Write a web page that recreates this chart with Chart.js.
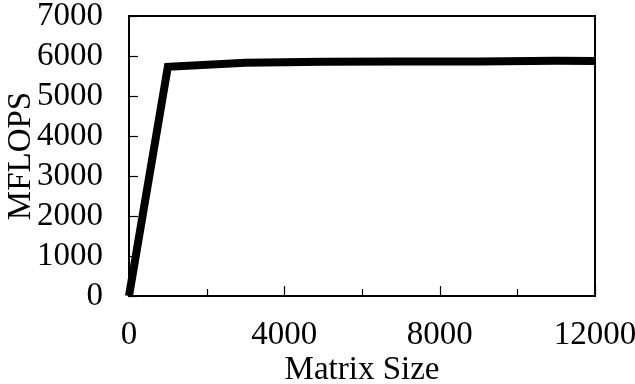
<!DOCTYPE html>
<html>
<head>
<meta charset="utf-8">
<script src="https://cdn.jsdelivr.net/npm/chart.js@4.4.0/dist/chart.umd.min.js"></script>
<style>
  html, body { margin: 0; padding: 0; background: #fff; }
  #wrap { width: 635px; height: 384px; }
</style>
</head>
<body>
<div id="wrap"><canvas id="mflops-chart"></canvas></div>
<script>
const matrixSizes = [0, 1000, 3000, 5000, 7000, 9000, 11000, 12000];
const mflops = [0, 5730, 5830, 5855, 5865, 5865, 5880, 5875];
const xTickValues = [0, 2000, 4000, 6000, 8000, 10000, 12000];
const yTickValues = [0, 1000, 2000, 3000, 4000, 5000, 6000, 7000];

const serif = "'Liberation Serif', 'DejaVu Serif', serif";

// frame box and inward tick marks
const frameTicks = {
    id: "frameTicks",
    afterDraw(chart) {
        const ctx = chart.ctx;
        const a = chart.chartArea;
        const xs = chart.scales.x;
        const ys = chart.scales.y;
        ctx.save();
        ctx.strokeStyle = "#000";
        ctx.lineWidth = 1.2;
        xTickValues.forEach((v) => {
            const px = Math.round(xs.getPixelForValue(v)) + 0.5;
            const len = v % 4000 === 0 ? 10 : 7;
            ctx.beginPath();
            ctx.moveTo(px, a.bottom);
            ctx.lineTo(px, a.bottom - len);
            ctx.stroke();
        });
        yTickValues.forEach((v) => {
            const py = Math.round(ys.getPixelForValue(v)) + 0.5;
            ctx.beginPath();
            ctx.moveTo(a.left, py);
            ctx.lineTo(a.left + 9, py);
            ctx.stroke();
        });
        ctx.lineWidth = 2;
        ctx.strokeRect(a.left, a.top, a.right - a.left, a.bottom - a.top);
        ctx.restore();
    },
};

new Chart(document.getElementById("mflops-chart"), {
    type: "line",
    data: {
        datasets: [
            {
                label: "MFLOPS",
                data: matrixSizes.map((x, i) => ({ x: x, y: mflops[i] })),
                borderColor: "#000",
                borderWidth: 8,
                pointRadius: 0,
                tension: 0,
                borderJoinStyle: "miter",
                clip: false,
            },
        ],
    },
    options: {
        responsive: true,
        maintainAspectRatio: false,
        animation: false,
        layout: { padding: { top: 16, right: 40, bottom: 0, left: 0 } },
        plugins: { legend: { display: false }, tooltip: { enabled: false } },
        scales: {
            x: {
                type: "linear",
                min: 0,
                max: 12000,
                afterBuildTicks: (s) => { s.ticks = xTickValues.filter((v) => v % 4000 === 0).map((v) => ({ value: v })); },
                afterFit: (s) => { s.height = 88; s.paddingLeft = 0; s.paddingRight = 0; },
                grid: { display: false, drawTicks: false },
                border: { display: false },
                ticks: {
                    color: "#000",
                    padding: 20,
                    maxRotation: 0,
                    autoSkip: false,
                    callback: (v) => String(v),
                    font: { family: serif, size: 33 },
                },
                title: {
                    display: true,
                    text: "Matrix Size",
                    color: "#000",
                    padding: { top: 0, bottom: -6 },
                    font: { family: serif, size: 33 },
                },
            },
            y: {
                min: 0,
                max: 7000,
                afterBuildTicks: (s) => { s.ticks = yTickValues.map((v) => ({ value: v })); },
                afterFit: (s) => { s.width = 129; s.paddingTop = 0; s.paddingBottom = 0; },
                grid: { display: false, drawTicks: false },
                border: { display: false },
                ticks: {
                    color: "#000",
                    padding: 26,
                    autoSkip: false,
                    callback: (v) => String(v),
                    font: { family: serif, size: 33 },
                },
                title: {
                    display: true,
                    text: "MFLOPS",
                    color: "#000",
                    padding: { top: 2, bottom: 0 },
                    font: { family: serif, size: 33 },
                },
            },
        },
    },
    plugins: [frameTicks],
});
</script>
</body>
</html>
